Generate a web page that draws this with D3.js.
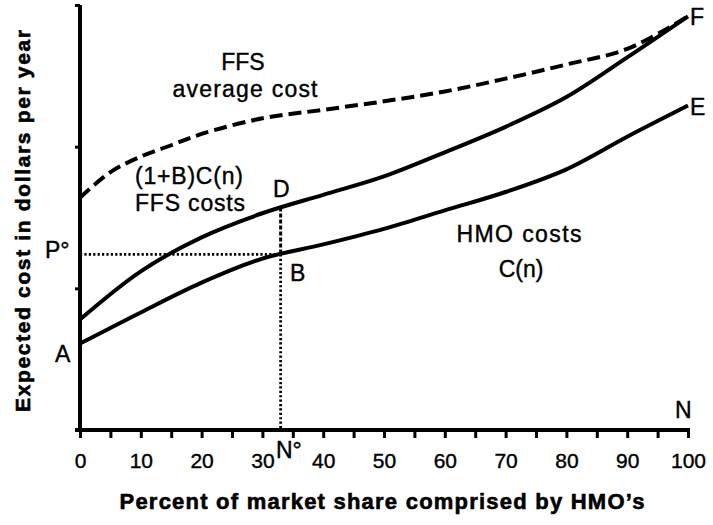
<!DOCTYPE html>
<html>
<meta charset="utf-8">
<style>
  body { margin: 0; background: #fff; }
  svg text { font-family: "Liberation Sans", Arial, Helvetica, sans-serif; fill: #000; }
</style>
<body>
  <script src="https://d3js.org/d3.v7.min.js"></script>
  <script>
    // market share of HMOs (percent)
    const shares = [0, 10, 20, 30, 40, 50, 60, 70, 80, 90, 100];
    // HMO costs C(n)
    const hmoCost = [0.61, 0.83, 1.04, 1.21, 1.31, 1.42, 1.55, 1.68, 1.84, 2.07, 2.29];
    // (1+B)C(n) FFS costs
    const ffsCost = [0.78, 1.12, 1.36, 1.53, 1.66, 1.79, 1.96, 2.14, 2.35, 2.63, 2.92];
    // FFS average cost (dashed)
    const avgShares = [0, 5, 10, 15, 20, 30, 40, 50, 60, 70, 80, 90, 100];
    const ffsAvgCost = [1.64, 1.82, 1.93, 2.01, 2.09, 2.20, 2.26, 2.32, 2.39, 2.48, 2.58, 2.69, 2.92];
    // equilibrium point
    const nStar = 33, pStar = 1.24, dCost = 1.57;
    const xTicks = d3.range(0, 101, 5);
    const yTicks = [1, 2, 3];

    const width = 713, height = 525;
    const x = d3.scaleLinear().domain([0, 100]).range([80, 688]);
    const y = d3.scaleLinear().domain([0, 3]).range([430, 5]);

    const svg = d3.select("body").append("svg")
        .attr("width", width)
        .attr("height", height);

    // x axis ticks and labels
    const xAxis = svg.append("g")
        .attr("transform", `translate(0,${y(0)})`)
        .call(d3.axisBottom(x)
            .tickValues(xTicks)
            .tickSize(8)
            .tickSizeOuter(0)
            .tickPadding(15)
            .tickFormat(d => d % 10 === 0 ? d : ""));
    xAxis.select(".domain").remove();
    xAxis.selectAll(".tick line").attr("stroke", "#000").attr("stroke-width", 3);
    xAxis.selectAll(".tick text")
        .style("font-size", "21px")
        .style("font-family", "'Liberation Sans', Arial, sans-serif")
        .attr("fill", "#000")
        .attr("stroke", "#000").attr("stroke-width", 0.4);

    // y axis ticks
    const yAxis = svg.append("g")
        .attr("transform", `translate(${x(0)},0)`)
        .call(d3.axisLeft(y).tickValues(yTicks).tickSize(5).tickSizeOuter(0).tickFormat(""));
    yAxis.select(".domain").remove();
    yAxis.selectAll(".tick line").attr("stroke", "#000").attr("stroke-width", 3);

    // axis lines
    svg.append("line")
        .attr("x1", x(0) - 5).attr("x2", x(100) + 2)
        .attr("y1", y(0)).attr("y2", y(0))
        .attr("stroke", "#000").attr("stroke-width", 4);
    svg.append("line")
        .attr("x1", x(0)).attr("x2", x(0))
        .attr("y1", y(0) + 2).attr("y2", y(3))
        .attr("stroke", "#000").attr("stroke-width", 4);

    // dotted guides
    svg.append("line")
        .attr("x1", x(0)).attr("x2", x(nStar))
        .attr("y1", y(pStar)).attr("y2", y(pStar))
        .attr("stroke", "#000").attr("stroke-width", 2.8)
        .attr("stroke-dasharray", "2.2,2.2");
    svg.append("line")
        .attr("x1", x(nStar)).attr("x2", x(nStar))
        .attr("y1", y(dCost)).attr("y2", y(pStar))
        .attr("stroke", "#000").attr("stroke-width", 3)
        .attr("stroke-dasharray", "4,2");
    svg.append("line")
        .attr("x1", x(nStar)).attr("x2", x(nStar))
        .attr("y1", y(pStar)).attr("y2", y(0))
        .attr("stroke", "#000").attr("stroke-width", 2.8)
        .attr("stroke-dasharray", "2.2,2.2");

    const line = d3.line()
        .x(d => x(d[0]))
        .y(d => y(d[1]))
        .curve(d3.curveCatmullRom.alpha(0.5));

    svg.append("path")
        .datum(d3.zip(shares, hmoCost))
        .attr("d", line)
        .attr("fill", "none").attr("stroke", "#000").attr("stroke-width", 4);

    svg.append("path")
        .datum(d3.zip(shares, ffsCost))
        .attr("d", line)
        .attr("fill", "none").attr("stroke", "#000").attr("stroke-width", 4);

    svg.append("path")
        .datum(d3.zip(avgShares, ffsAvgCost))
        .attr("d", line)
        .attr("fill", "none").attr("stroke", "#000").attr("stroke-width", 4)
        .attr("stroke-dasharray", "13,6");

    // annotations
    const labels = [
      {t: "FFS", x: 243, y: 70, a: "middle"},
      {t: "average cost", x: 245, y: 97, a: "middle", len: 145},
      {t: "(1+B)C(n)", x: 135, y: 184, a: "start", len: 108},
      {t: "FFS costs", x: 135, y: 211, a: "start", len: 110},
      {t: "D", x: 273, y: 197, a: "start"},
      {t: "P°", x: 45, y: 258, a: "start"},
      {t: "B", x: 290, y: 281, a: "start"},
      {t: "A", x: 55, y: 362, a: "start"},
      {t: "N°", x: 276, y: 458, a: "start"},
      {t: "N", x: 675, y: 418, a: "start"},
      {t: "F", x: 690, y: 25, a: "start"},
      {t: "E", x: 690, y: 115, a: "start"},
      {t: "HMO costs", x: 519, y: 242, a: "middle", len: 125},
      {t: "C(n)", x: 521, y: 277, a: "middle"}
    ];
    svg.append("g").selectAll("text")
        .data(labels)
        .join("text")
          .attr("x", d => d.x)
          .attr("y", d => d.y)
          .attr("text-anchor", d => d.a)
          .style("font-size", "23px")
          .attr("stroke", "#000").attr("stroke-width", 0.4)
          .attr("textLength", d => d.len || null)
          .attr("lengthAdjust", "spacing")
          .text(d => d.t);

    // axis titles
    svg.append("text")
        .attr("x", 382).attr("y", 509)
        .attr("text-anchor", "middle")
        .style("font-size", "22px").style("font-weight", "bold")
        .attr("stroke", "#000").attr("stroke-width", 0.6)
        .attr("textLength", 525).attr("lengthAdjust", "spacing")
        .text("Percent of market share comprised by HMO’s");

    svg.append("text")
        .attr("transform", "translate(30,221) rotate(-90)")
        .attr("text-anchor", "middle")
        .style("font-size", "21px").style("font-weight", "bold")
        .attr("stroke", "#000").attr("stroke-width", 0.6)
        .attr("textLength", 382).attr("lengthAdjust", "spacing")
        .text("Expected cost in dollars per year");
  </script>
</body>
</html>
